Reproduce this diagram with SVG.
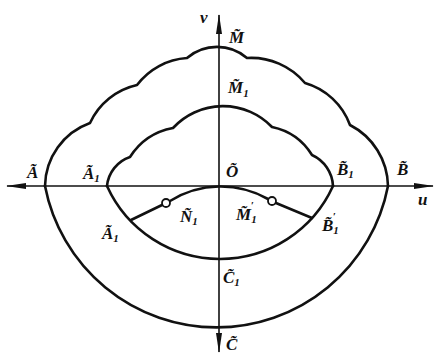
<svg xmlns="http://www.w3.org/2000/svg" width="435" height="355" viewBox="0 0 435 355">
<style>
.c{fill:none;stroke:#111;stroke-width:2.6;stroke-linejoin:round;stroke-linecap:round}
.ax{fill:none;stroke:#111;stroke-width:1.6}
.lb{font-family:"Liberation Serif",serif;font-style:italic;font-weight:bold;font-size:17px;fill:#111}
.sb{font-size:11px}
</style>
<defs>
<marker id="ah" viewBox="0 0 20 8" refX="19" refY="4" markerWidth="20" markerHeight="8" markerUnits="userSpaceOnUse" orient="auto">
<path d="M0,1 L20,4 L0,7 Z" fill="#111"/>
</marker>
</defs>
<rect width="435" height="355" fill="#fff"/>
<g id="axes">
<line class="ax" x1="219" y1="186" x2="433" y2="186" marker-end="url(#ah)"/>
<line class="ax" x1="219" y1="186" x2="7" y2="186" marker-end="url(#ah)" stroke-width="2.2"/>
<line class="ax" x1="219" y1="186" x2="219" y2="15" marker-end="url(#ah)"/>
<line class="ax" x1="219" y1="186" x2="219" y2="352" marker-end="url(#ah)"/>
</g>
<g id="outer">
<path class="c" d="M45,186 A68,68 0 0 1 90,123 A68,68 0 0 1 137,85 A68,68 0 0 1 187,58 A46,46 0 0 1 247,58 A70,70 0 0 1 305,83 A68,68 0 0 1 350,125 A70,70 0 0 1 388,186"/>
<path class="c" d="M45,186 A174.7,174.7 0 0 0 388,186"/>
</g>
<g id="inner">
<path class="c" d="M107,186 A34,34 0 0 1 130,157 A65,65 0 0 1 173,128 A68,68 0 0 1 272,127 A62,62 0 0 1 312,155 A36,36 0 0 1 333,186"/>
<path class="c" d="M107,186 A124,124 0 0 0 333,186"/>
</g>
<g id="lens">
<path class="c" d="M131,220 L162,205 M170,201 A96,96 0 0 1 268,199 M276,203 L312,218" stroke-width="2.2"/>
<circle cx="166" cy="203" r="4" fill="#fff" stroke="#111" stroke-width="1.8"/>
<circle cx="272" cy="201" r="4" fill="#fff" stroke="#111" stroke-width="1.8"/>
</g>
<g id="labels">
<text class="lb" x="200" y="23">v</text>
<text class="lb" x="229" y="43">M&#x303;</text>
<text class="lb" x="228" y="93">M&#x303;<tspan class="sb" dy="4">1</tspan></text>
<text class="lb" x="27" y="178">&#xC3;</text>
<text class="lb" x="83" y="179">&#xC3;<tspan class="sb" dy="3">1</tspan></text>
<text class="lb" x="226" y="177">&#xD5;</text>
<text class="lb" x="337" y="175">B&#x303;<tspan class="sb" dy="3">1</tspan></text>
<text class="lb" x="397" y="175">B&#x303;</text>
<text class="lb" x="418" y="205">u</text>
<text class="lb" x="102" y="239">&#xC3;<tspan class="sb" dy="3">1</tspan></text>
<text class="lb" x="180" y="222">&#xD1;<tspan class="sb" dy="3">1</tspan></text>
<text class="lb" x="236" y="220">M&#x303;<tspan class="sb" dy="3">1</tspan><tspan class="sb" dx="-6" dy="-14">′</tspan></text>
<text class="lb" x="322" y="231">B&#x303;<tspan class="sb" dy="3">1</tspan><tspan class="sb" dx="-6" dy="-14">′</tspan></text>
<text class="lb" x="223" y="283">C&#x303;<tspan class="sb" dy="3">1</tspan></text>
<text class="lb" x="226" y="350">C&#x303;</text>
</g>
</svg>
